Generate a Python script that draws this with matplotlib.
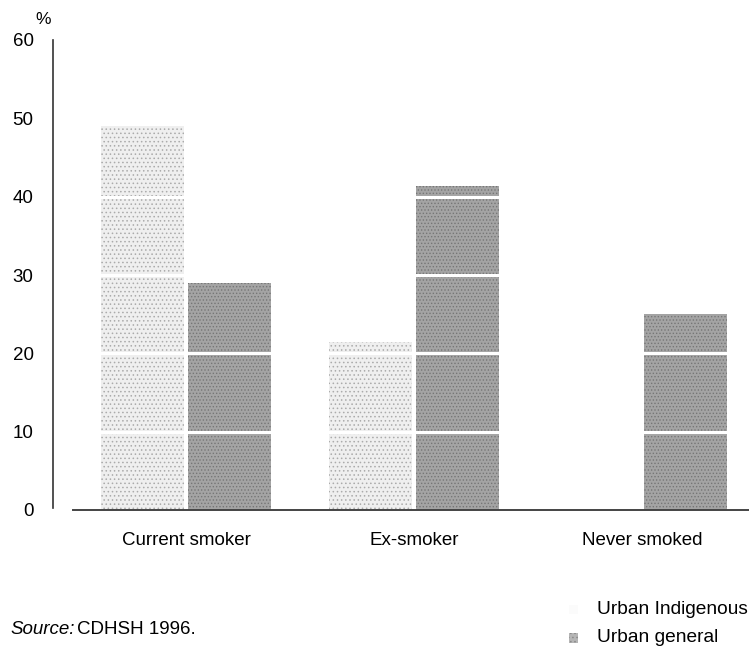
import numpy as np
import matplotlib
matplotlib.use('Agg')
import matplotlib.pyplot as plt
from matplotlib.patches import Rectangle

plt.rcParams['font.family'] = ['Liberation Sans', 'DejaVu Sans']
plt.rcParams['hatch.linewidth'] = 0.6

# dados (%)
categorias = ['Current smoker', 'Ex-smoker', 'Never smoked']
urban_indigenous = [49, 21.5, 0]   # barra de "Never smoked" não aparece no original
urban_general = [29, 41.3, 25]
y_ticks = [0, 10, 20, 30, 40, 50, 60]

fig = plt.figure(figsize=(7.49, 6.59), dpi=100)
ax = fig.add_axes([73 / 749, 1 - 510 / 659, 1 - 73 / 749, 470 / 659])

x = np.arange(len(categorias))
w = 0.365
off = 0.19

ax.bar(x - off, urban_indigenous, width=w, color='#efefef', edgecolor='#ababab',
       hatch='....', linewidth=0, zorder=2)
ax.bar(x + off, urban_general, width=w, color='#a4a4a4', edgecolor='#767676',
       hatch='.....', linewidth=0, zorder=2)

# linhas brancas cortando as barras
for yv in [10, 20, 30, 40, 50]:
    ax.axhline(yv, color='white', linewidth=2.2, zorder=3)

ax.set_xlim(-0.496, 2.47)
ax.set_ylim(0, 60)
ax.set_yticks(y_ticks)
ax.set_xticks(x)
ax.set_xticklabels(categorias, fontsize=13.5)
ax.tick_params(axis='x', length=0, pad=16)
ax.tick_params(axis='y', length=0, pad=14, labelsize=13.5)

for s in ['top', 'right']:
    ax.spines[s].set_visible(False)
ax.spines['left'].set_position(('outward', 14.4))
ax.spines['left'].set_linewidth(1.2)
ax.spines['left'].set_color('#333333')
ax.spines['left'].set_bounds(0.3, 60)
ax.spines['bottom'].set_linewidth(1.4)
ax.spines['bottom'].set_color('#444444')

fig.text(43 / 749, 1 - 20 / 659, '%', fontsize=12.5, ha='center', va='center')

# fonte e legenda
fig.text(10 / 749, 1 - 630 / 659, 'Source:', fontsize=13.5, style='italic',
         ha='left', va='center')
fig.text(77 / 749, 1 - 630 / 659, 'CDHSH 1996.', fontsize=13.5,
         ha='left', va='center')

fig.text(597 / 749, 1 - 610 / 659, 'Urban Indigenous', fontsize=13.8,
         ha='left', va='center')
fig.text(597 / 749, 1 - 638 / 659, 'Urban general', fontsize=13.8,
         ha='left', va='center')
fig.patches.append(Rectangle((569 / 749, 1 - 614 / 659), 9 / 749, 9 / 659,
                             transform=fig.transFigure, facecolor='#fbfbfb',
                             edgecolor='none'))
fig.patches.append(Rectangle((569 / 749, 1 - 643 / 659), 9 / 749, 10 / 659,
                             transform=fig.transFigure, facecolor='#b5b5b5',
                             edgecolor='#8a8a8a', hatch='....', linewidth=0))

fig.savefig('out.png', dpi=100)
plt.close(fig)
